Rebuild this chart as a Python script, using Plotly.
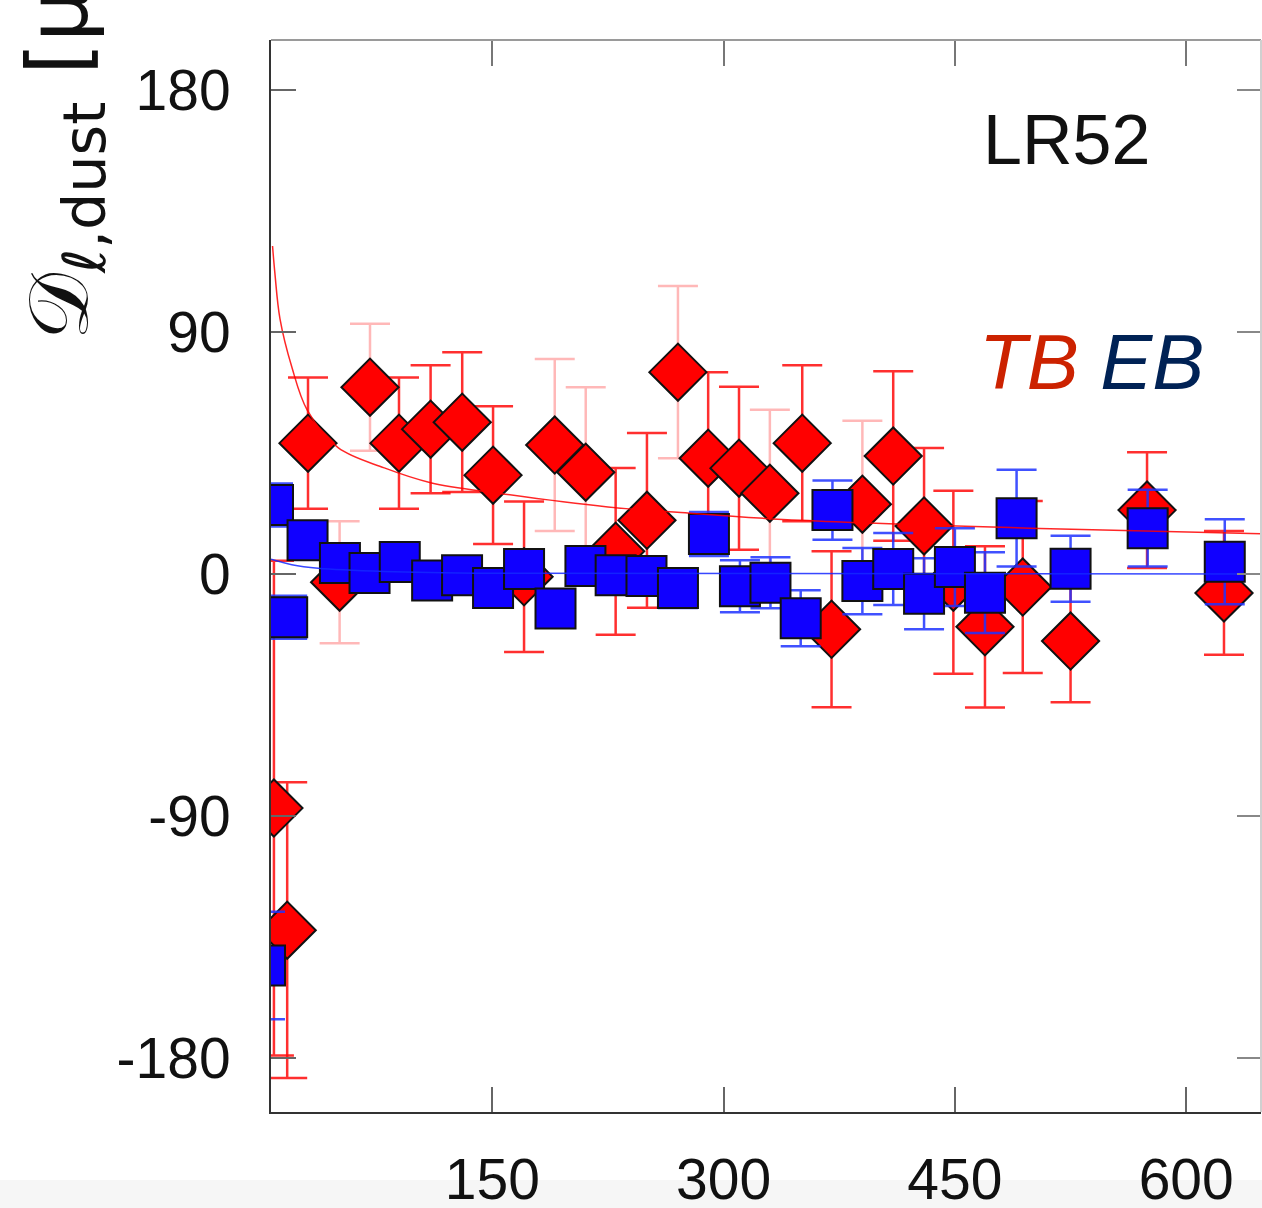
import plotly.graph_objects as go

# ---------------- data ----------------
tb_ell = [8.4, 17, 30.5, 51, 70.7, 89.5, 110, 130.5, 150.5, 170.6,
          190.5, 210.6, 230, 250.3, 270.4, 290, 310, 330, 351, 370,
          390, 410, 430, 449, 469.5, 494, 525, 574.6, 624.5]
tb_val = [-87, -132.4, 48.7, -3, 69.5, 48.7, 53.9, 56.5, 36.8, -1,
          48, 37.9, 8.5, 20, 75.1, 43.1, 39.4, 30.1, 48.7, -20.5,
          26, 43.9, 17.9, -3, -19.6, -4.8, -24.9, 23.8, -7]
tb_err = [92, 55, 24.4, 22.7, 23.6, 24.4, 23.8, 26, 25.6, 28,
          32, 31.6, 31, 32.5, 32, 32, 30.3, 31, 29, 29,
          31, 31.5, 29, 34, 30, 32, 22.7, 21.5, 23]

eb_ell = [2.6, 7.8, 17, 30.2, 51.2, 70.4, 90, 111, 130.4, 150.5,
          170.6, 191, 210.4, 230, 250, 270.4, 290.5, 310.6, 330.4, 350,
          370.6, 390, 410, 430, 450, 469.5, 490, 525, 575, 625]
eb_val = [-145.5, 25.7, -16, 12.6, 4.1, 0.4, 4.5, -2.4, -0.4, -5.2,
          1.9, -12.8, 3, -0.4, -0.7, -5.2, 14.9, -4.5, -3.2, -16.4,
          23.8, -2.6, 1.9, -7.3, 2.6, -6.9, 20.8, 2, 17.1, 4.6]
eb_err = [20, 8, 8, 6, 6, 6, 6, 6, 6, 6,
          6, 7, 7, 7, 7, 7.4, 8.2, 9.7, 9.5, 10.4,
          11, 12.3, 13.4, 13.2, 14.5, 15, 18, 12.3, 14.3, 15.8]

# model curves
tb_model_ell = [7.5, 9, 12.3, 20, 30, 50, 80, 110, 155, 225, 270, 350, 505, 650]
tb_model_val = [122, 112, 95, 77, 61, 47, 39.5, 34, 30, 25, 23, 20, 17, 15]
eb_model_ell = [6.5, 20, 37, 80, 150, 650]
eb_model_val = [5.5, 3.5, 2.2, 1.0, 0.3, 0]

x_ticks = [150, 300, 450, 600]
y_ticks = [-180, -90, 0, 90, 180]

# TB points whose error bars look faint in the picture (style only)
faint_idx = [3, 4, 10, 11, 14, 17, 20]

# ---------------- figure ----------------
W, H = 1262, 1208
ML, MR, MT, MB = 271, 1, 40, 96
PW, PH = W - ML - MR, H - MT - MB

def px_x(p):
    return (p - ML) / PW

def px_y(p):
    return (H - MB - p) / PH

fig = go.Figure()

strong = [i for i in range(len(tb_ell)) if i not in faint_idx]

for idx, col in ((faint_idx, "rgba(255,0,0,0.28)"), (strong, "rgba(255,10,10,0.85)")):
    fig.add_trace(go.Scatter(
        x=[tb_ell[i] for i in idx], y=[tb_val[i] for i in idx],
        mode="markers", marker=dict(size=1, opacity=0),
        error_y=dict(type="data", array=[tb_err[i] for i in idx], visible=True,
                     color=col, thickness=2.5, width=20),
        showlegend=False, hoverinfo="skip"))

fig.add_trace(go.Scatter(
    x=tb_ell, y=tb_val, mode="markers",
    marker=dict(symbol="diamond", size=44, color="#ff0000",
                line=dict(color="#111111", width=2)),
    showlegend=False))

fig.add_trace(go.Scatter(
    x=eb_ell, y=eb_val, mode="markers",
    marker=dict(symbol="square", size=40, color="#1000ff",
                line=dict(color="#111111", width=2)),
    error_y=dict(type="data", array=eb_err, visible=True,
                 color="rgba(30,50,255,0.85)", thickness=2.5, width=20),
    showlegend=False))

fig.add_trace(go.Scatter(
    x=tb_model_ell, y=tb_model_val, mode="lines",
    line=dict(color="rgba(255,0,0,0.85)", width=1.5, shape="spline"),
    showlegend=False, hoverinfo="skip"))
fig.add_trace(go.Scatter(
    x=eb_model_ell, y=eb_model_val, mode="lines",
    line=dict(color="rgba(20,40,255,0.85)", width=1.5, shape="spline"),
    showlegend=False, hoverinfo="skip"))

# dummy trace to host the mirrored (top / right) tick axes
fig.add_trace(go.Scatter(x=[], y=[], xaxis="x2", yaxis="y2", showlegend=False))

tick_font = dict(family="Liberation Sans", size=57, color="#111111")
X_RANGE = [6.5, 648.5]
Y_RANGE = [-200, 198.6]

fig.update_layout(
    width=W, height=H,
    margin=dict(l=ML, r=MR, t=MT, b=MB, pad=0, autoexpand=False),
    paper_bgcolor="white", plot_bgcolor="white",
    xaxis=dict(range=X_RANGE, tickvals=x_ticks, ticktext=[str(v) for v in x_ticks],
               ticks="inside", ticklen=25, tickwidth=2, tickcolor="#666666",
               showline=True, linecolor="#333333", linewidth=2,
               showgrid=False, zeroline=False, tickfont=tick_font,
               ticklabelstandoff=17, automargin=False),
    yaxis=dict(range=Y_RANGE, tickvals=y_ticks, ticktext=[str(v) for v in y_ticks],
               ticks="inside", ticklen=25, tickwidth=2, tickcolor="#666666",
               showline=True, linecolor="#333333", linewidth=2,
               showgrid=False, zeroline=False, tickfont=tick_font,
               ticklabelstandoff=27, automargin=False),
    xaxis2=dict(range=X_RANGE, overlaying="x", side="top", anchor="y",
                tickvals=x_ticks, showticklabels=False,
                ticks="inside", ticklen=26, tickwidth=2, tickcolor="#777777",
                showline=False, showgrid=False, zeroline=False, automargin=False),
    yaxis2=dict(range=Y_RANGE, overlaying="y", side="right", anchor="x",
                tickvals=y_ticks, showticklabels=False,
                ticks="inside", ticklen=24, tickwidth=2, tickcolor="#888888",
                showline=False, showgrid=False, zeroline=False, automargin=False),
    shapes=[
        dict(type="rect", xref="paper", yref="paper",
             x0=px_x(0), x1=px_x(W), y0=px_y(H), y1=px_y(1180),
             fillcolor="#f6f6f6", line=dict(width=0), layer="below"),
        dict(type="line", xref="paper", yref="paper", x0=0, x1=1, y0=1, y1=1,
             line=dict(color="#9a9a9a", width=2)),
        dict(type="line", xref="paper", yref="paper", x0=1, x1=1, y0=0, y1=1,
             line=dict(color="#d0d0d0", width=2)),
    ],
    annotations=[
        dict(text="LR52", xref="paper", yref="paper", x=px_x(1066), y=px_y(140),
             xanchor="center", yanchor="middle", showarrow=False,
             font=dict(family="Liberation Sans", size=70, color="#111111")),
        dict(text="<i><span style='color:#cc2200'>TB</span> "
                  "<span style='color:#002255'>EB</span></i>",
             xref="paper", yref="paper", x=px_x(1091), y=px_y(362),
             xanchor="center", yanchor="middle", showarrow=False,
             font=dict(family="Liberation Sans", size=78, color="#cc2200")),
        dict(text="𝒟<sub>ℓ,dust</sub> [μK<sup>2</sup>]",
             xref="paper", yref="paper", x=px_x(58), y=px_y(342),
             xanchor="center", yanchor="bottom", textangle=-90, showarrow=False,
             font=dict(family="DejaVu Sans", size=84, color="#111111")),
    ],
)

fig.write_html("out.html")
